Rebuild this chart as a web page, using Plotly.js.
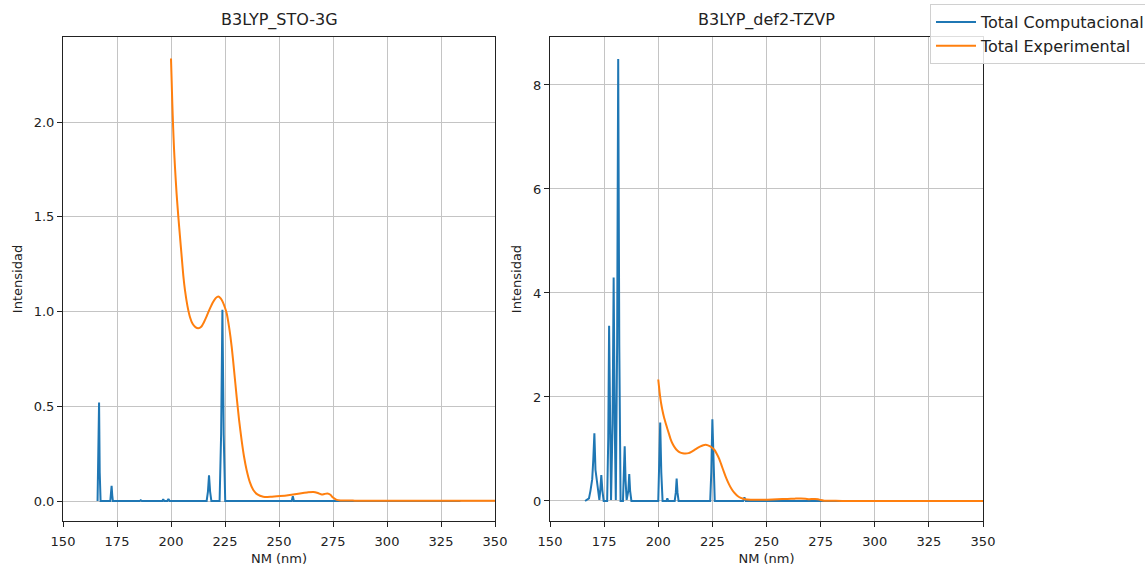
<!DOCTYPE html>
<html>
<head>
<meta charset="utf-8">
<script src="https://cdn.plot.ly/plotly-3.0.1.min.js"></script>
<style>html,body{margin:0;padding:0;background:#fff;overflow:hidden;width:1145px;height:566px;}#chart{width:1145px;height:566px;overflow:hidden;}</style>
</head>
<body>
<div id="chart"></div>
<script>
// ---- Data ----
const titles = ["B3LYP_STO-3G", "B3LYP_def2-TZVP"];
const seriesNames = ["Total Computacional", "Total Experimental"];
const xTicks = [150, 175, 200, 225, 250, 275, 300, 325, 350];
const yTicksLeft = [0.0, 0.5, 1.0, 1.5, 2.0];
const yTicksRight = [0, 2, 4, 6, 8];

// Computational spectrum, STO-3G
const compStoX = [166.0,166.3,166.7,167.0,167.4, 171.9,172.2,172.5,172.8,173.1,
  185.5,186.0,186.5, 196.0,196.4,196.9, 198.3,198.8,199.4,
  216.5,217.1,217.6,218.1,218.7, 222.5,223.2,223.8,224.4,225.1,
  255.9,256.4,256.9, 334.0];
const compStoY = [0,0.15,0.52,0.15,0, 0,0.03,0.08,0.03,0,
  0,0.004,0, 0,0.009,0, 0,0.011,0,
  0,0.05,0.135,0.05,0, 0,0.35,1.01,0.35,0,
  0,0.025,0, 0];

// Computational spectrum, def2-TZVP
const compTzX = [166.2,168.0,168.7,169.5,170.0,170.5,171.0,171.6,172.2,172.8,
  173.2,173.7,174.2,174.8, 176.4,176.9,177.3,177.7,178.2,
  178.9,179.4,179.9,180.4, 181.0,181.5,182.0,182.6,
  183.7,184.1,184.5,184.9,185.4, 186.2,186.6,187.0,187.6,
  200.0,200.4,200.9,201.4,202.0, 203.8,204.2,204.6,
  207.6,208.1,208.5,208.9,209.4, 224.0,224.5,225.0,225.5,226.1,
  239.2,239.8,240.4, 334.0];
const compTzY = [0,0.05,0.2,0.42,0.8,1.30,0.6,0.37,0.15,0.02,
  0.2,0.5,0.2,0, 0,1.2,3.37,1.2,0.02,
  1.5,4.30,1.5,0.02, 3.0,8.5,3.0,0,
  0,0.4,1.05,0.4,0.02, 0.2,0.52,0.2,0,
  0,0.55,1.51,0.55,0, 0,0.05,0,
  0,0.16,0.43,0.16,0, 0,0.55,1.57,0.55,0,
  0,0.07,0, 0];

// Experimental spectrum (same in both panels)
const expX = [200.0,200.3,200.6,201.0,201.4,201.85,202.6,203.4,204.2,204.95,205.7,206.5,207.6,208.8,
  210.0,211.3,212.6,214.0,215.3,216.5,218.0,219.5,220.8,221.9,223.0,224.0,225.0,225.8,
  227.0,228.1,229.2,230.4,231.5,232.7,233.8,235.0,236.5,238.1,240.0,242.7,246.0,250.5,
  255.0,259.7,263.0,265.9,268.0,269.8,271.0,272.4,273.8,275.0,276.7,278.5,285,300,320,350];
const expY = [2.336,2.22,2.10,1.97,1.86,1.76,1.62,1.50,1.39,1.29,1.19,1.11,1.03,0.97,
  0.935,0.918,0.912,0.92,0.945,0.975,1.015,1.05,1.072,1.08,1.07,1.05,1.02,0.99,
  0.91,0.814,0.69,0.55,0.43,0.32,0.235,0.164,0.10,0.058,0.035,0.023,0.022,0.026,
  0.032,0.04,0.045,0.048,0.042,0.034,0.037,0.04,0.033,0.018,0.006,0.003,0.002,0.002,0.001,0.001];

// ---- Styling ----
const BLUE = "#1f77b4", ORANGE = "#ff7f0e";
const FONT = "DejaVu Sans, Liberation Sans, sans-serif";
const W = 1145, H = 566;
const T = 37, B = 45;
const plotH = H - T - B;

const traces = [
  {x: compStoX, y: compStoY, xaxis: "x", yaxis: "y", mode: "lines", name: seriesNames[0],
   line: {color: BLUE, width: 2}, showlegend: true, legendgroup: "c"},
  {x: expX, y: expY, xaxis: "x", yaxis: "y", mode: "lines", name: seriesNames[1],
   line: {color: ORANGE, width: 2, shape: "spline", smoothing: 0.6}, showlegend: true, legendgroup: "e"},
  {x: compTzX, y: compTzY, xaxis: "x2", yaxis: "y2", mode: "lines", name: seriesNames[0],
   line: {color: BLUE, width: 2}, showlegend: false, legendgroup: "c"},
  {x: expX, y: expY, xaxis: "x2", yaxis: "y2", mode: "lines", name: seriesNames[1],
   line: {color: ORANGE, width: 2, shape: "spline", smoothing: 0.6}, showlegend: false, legendgroup: "e"}
];

function xax(domain, anchor) {
  return {
    domain: domain, anchor: anchor, range: [150, 350],
    tickvals: xTicks, ticktext: xTicks.map(String),
    ticks: "outside", ticklen: 5, tickwidth: 1, tickcolor: "#222",
    ticklabelstandoff: 3,
    showline: true, mirror: true, linecolor: "#222", linewidth: 1,
    showgrid: true, gridcolor: "#c4c4c4", gridwidth: 1, zeroline: false,
    tickfont: {family: FONT, size: 13, color: "#222"},
    title: {text: "NM (nm)", font: {family: FONT, size: 13, color: "#222"}, standoff: 6},
    automargin: false
  };
}
function yax(domain, anchor, range, ticks, fmt) {
  return {
    domain: domain, anchor: anchor, range: range,
    tickvals: ticks, ticktext: ticks.map(v => fmt(v)),
    ticks: "outside", ticklen: 5, tickwidth: 1, tickcolor: "#222",
    showline: true, mirror: true, linecolor: "#222", linewidth: 1,
    showgrid: true, gridcolor: "#c4c4c4", gridwidth: 1, zeroline: false,
    tickfont: {family: FONT, size: 13, color: "#222"},
    title: {text: "Intensidad", font: {family: FONT, size: 13, color: "#222"}, standoff: 8},
    automargin: false
  };
}

const dL = [63 / W, 495 / W];
const dR = [550 / W, 983 / W];

const layout = {
  width: W, height: H,
  margin: {l: 0, r: 0, t: T, b: B, autoexpand: false},
  paper_bgcolor: "#fff", plot_bgcolor: "#fff",
  font: {family: FONT, color: "#222"},
  xaxis: xax(dL, "y"),
  yaxis: yax([0, 1], "x", [-0.1055, 2.449], yTicksLeft, v => v.toFixed(1)),
  xaxis2: xax(dR, "y2"),
  yaxis2: yax([0, 1], "x2", [-0.385, 8.923], yTicksRight, v => String(v)),
  showlegend: true,
  legend: {
    x: 930 / W, y: (H - B - 4) / plotH, xanchor: "left", yanchor: "top",
    xref: "paper", yref: "paper",
    bgcolor: "rgba(255,255,255,0.85)", bordercolor: "#d0d0d0", borderwidth: 1,
    font: {family: FONT, size: 16, color: "#222"},
    tracegroupgap: 0, itemwidth: 40
  },
  annotations: [
    {text: titles[0], x: (dL[0] + dL[1]) / 2, y: (H - B - 20) / plotH, xref: "paper", yref: "paper",
     xanchor: "center", yanchor: "middle", showarrow: false, font: {family: FONT, size: 16, color: "#222"}},
    {text: titles[1], x: (dR[0] + dR[1]) / 2, y: (H - B - 20) / plotH, xref: "paper", yref: "paper",
     xanchor: "center", yanchor: "middle", showarrow: false, font: {family: FONT, size: 16, color: "#222"}}
  ]
};

Plotly.newPlot("chart", traces, layout, {displayModeBar: false, staticPlot: true});
</script>
</body>
</html>
